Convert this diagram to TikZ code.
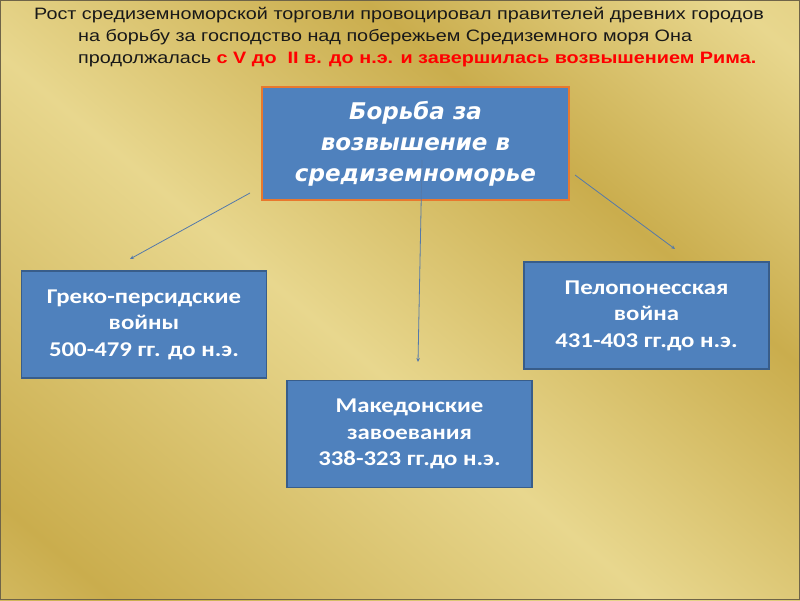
\documentclass[tikz,border=0pt]{standalone}
\usepackage{fontspec}
\setmainfont{Liberation Sans}[FakeStretch=1.2]
\newfontfamily\boxfont{Carlito}[FakeStretch=1.18]
\newfontfamily\headfont{DejaVu Sans}
\usepackage{tikz,tkz-euclide}
\usetikzlibrary{calc,arrows.meta}

\definecolor{goldlight}{HTML}{E8D78E}
\definecolor{goldmid}{HTML}{D8C06A}
\definecolor{golddark}{HTML}{CAAD4D}
\definecolor{boxblue}{HTML}{4F81BD}
\definecolor{boxedge}{HTML}{385D8A}
\definecolor{boxorange}{HTML}{E8782E}
\definecolor{linkblue}{HTML}{5479AA}
\definecolor{slideframe}{HTML}{6F6448}

\pgfdeclarehorizontalshading{goldbg}{100bp}{color(0bp)=(goldlight); color(20bp)=(golddark);
	color(45bp)=(goldlight); color(65bp)=(golddark); color(82bp)=(goldlight); color(100bp)=(goldmid)}

\tikzset{
	box/.style={draw=boxedge, line width=1.5pt, fill=boxblue, text=white, align=center,
		inner sep=0pt, minimum width=245pt, minimum height=107pt,
		font=\boxfont\bfseries\fontsize{21}{26.5}\selectfont},
	topbox/.style={box, draw=boxorange, line width=2pt, minimum width=307pt, minimum height=113pt,
		font=\headfont\bfseries\itshape\fontsize{23}{31}\selectfont},
	intro/.style={anchor=base west, inner sep=0pt, text=black!90,
		font=\fontsize{16.5}{22}\selectfont},
	link/.style={draw=linkblue, line width=0.8pt, -{Stealth[length=4pt,width=3.5pt]}}
}

\begin{document}
\begin{tikzpicture}[x=1pt,y=-1pt]
				\useasboundingbox (0,0) rectangle (800,600);
				\shade[shading=goldbg, shading angle=50] (0,0) rectangle (800,600);
				\draw[slideframe, line width=1pt] (0.5,0.5) rectangle (799.5,599.5);
				\node[intro] (t1) at (34,19) {Рост средиземноморской торговли провоцировал правителей древних городов};
				\node[intro] (t2) at (78,41.3) {на борьбу за господство над побережьем Средиземного моря Она};
				\node[intro] (t3) at (78,63.6) {продолжалась \textcolor{red}{\bfseries с V до \ II в. до н.э. и завершилась возвышением Рима.}};
				\node[topbox] (fight) at (415.5,143.5) {Борьба за\\возвышение в\\средиземноморье};
				\node[box] (greek) at (144,324.5) {Греко-персидские\\войны\\500-479 гг. до н.э.};
				\node[box] (maced) at (409.5,434) {Македонские\\завоевания\\338-323 гг.до н.э.};
				\node[box] (pelop) at (646.5,315.5) {Пелопонесская\\война\\431-403 гг.до н.э.};
				\tkzDefPoint(250,193){L_1}
				\tkzDefPoint(130,259){L_2}
				\tkzDefPoint(422,160){M_1}
				\tkzDefPoint(418,362){M_2}
				\tkzDefPoint(575,175){R_1}
				\tkzDefPoint(675,249){R_2}
				\draw[link] (L_1) -- (L_2);
				\draw[link] (M_1) -- (M_2);
				\draw[link] (R_1) -- (R_2);
\end{tikzpicture}
\end{document}
